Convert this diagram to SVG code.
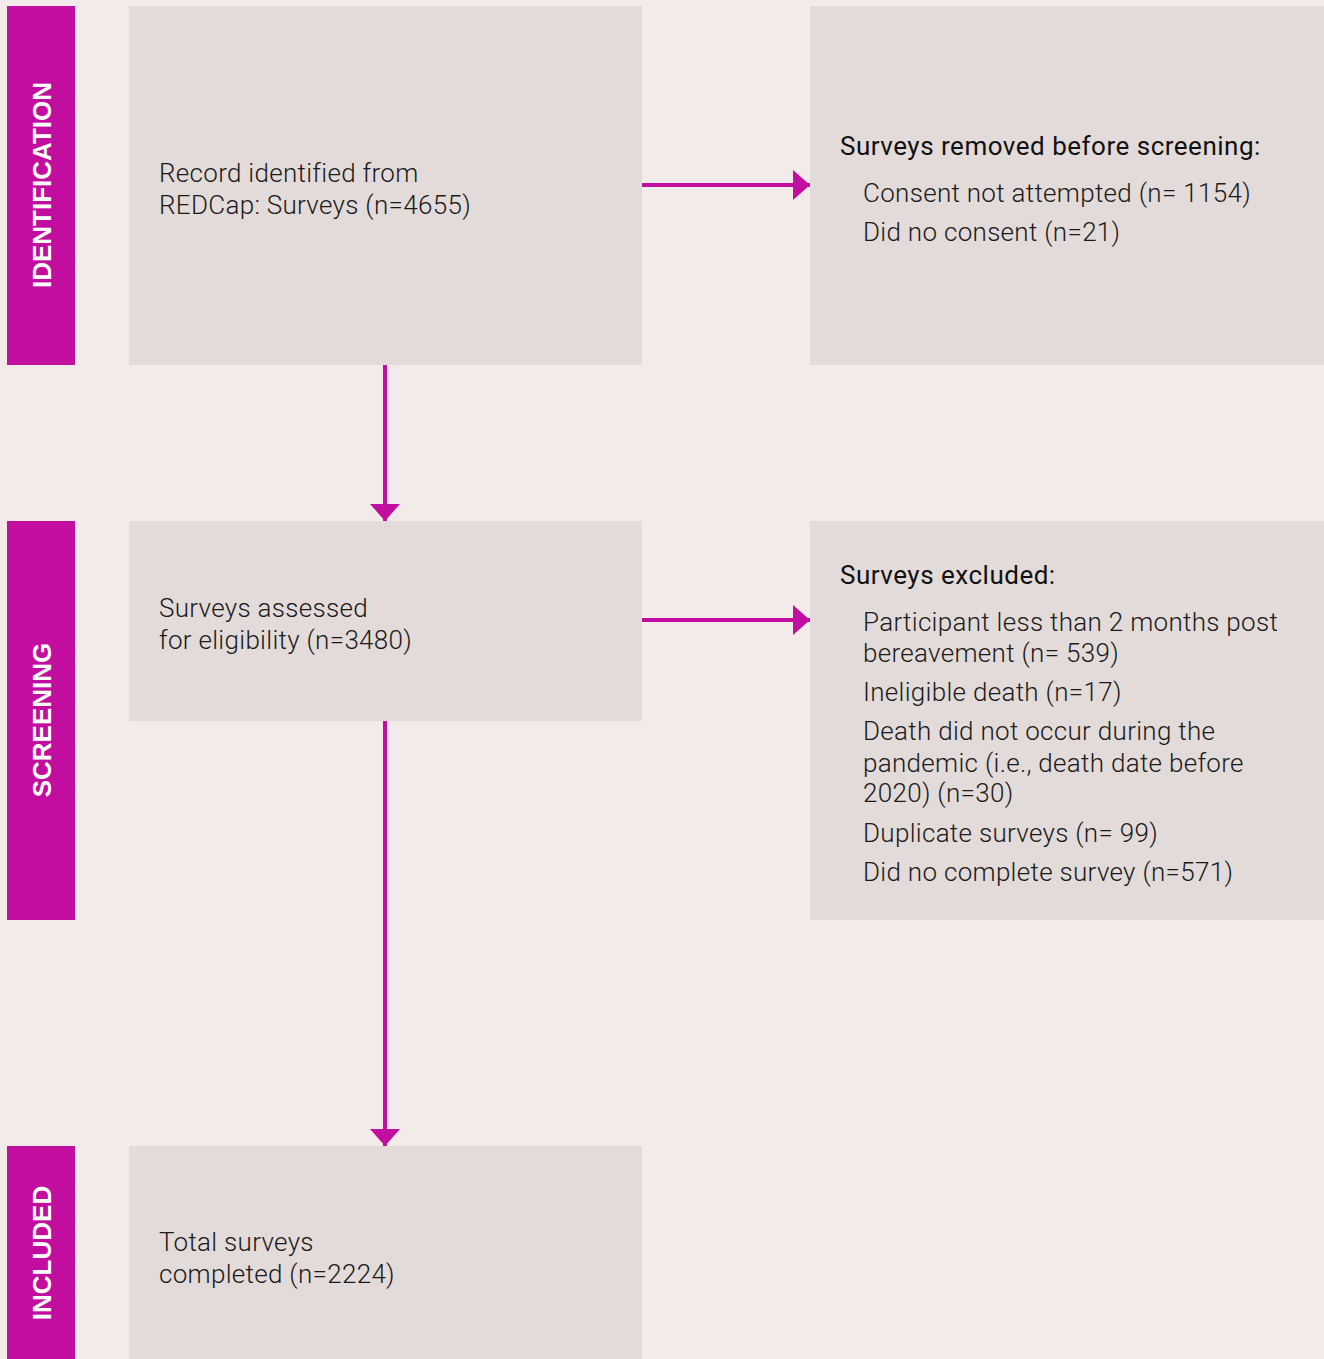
<svg xmlns="http://www.w3.org/2000/svg" width="1324" height="1359" viewBox="0 0 1324 1359">
<defs>
<style>
.bg{fill:#F3EAEA}
.bar{fill:#C20E9E}
.box{fill:#E3DBD9}
.lbl{font-family:"Liberation Sans",Arial,sans-serif;font-weight:bold;font-size:26px;fill:#FFFFFF;text-anchor:middle}
.t{font-family:Roboto,"Liberation Sans",sans-serif;font-weight:300;font-size:26px;letter-spacing:0.3px;fill:#1a1a1a}
.h{font-family:Roboto,"Liberation Sans",sans-serif;font-weight:400;font-size:26px;letter-spacing:0.5px;fill:#111111}
.con{stroke:#C20E9E;stroke-width:4;fill:none}
</style>
<marker id="ah" viewBox="0 0 17 30" refX="17" refY="15" markerWidth="17" markerHeight="30" markerUnits="userSpaceOnUse" orient="auto">
<path d="M0,0 L17,15 L0,30 Z" fill="#C20E9E"/>
</marker>
</defs>
<rect class="bg" x="0" y="0" width="1324" height="1359"/>
<g id="stage-identification">
<rect class="bar" x="7" y="6" width="68" height="359"/>
<text class="lbl" transform="translate(51,185) rotate(-90)">IDENTIFICATION</text>
</g>
<g id="stage-screening">
<rect class="bar" x="7" y="521" width="68" height="399"/>
<text class="lbl" transform="translate(51,720) rotate(-90)">SCREENING</text>
</g>
<g id="stage-included">
<rect class="bar" x="7" y="1146" width="68" height="213"/>
<text class="lbl" transform="translate(51,1253) rotate(-90)">INCLUDED</text>
</g>
<g id="node-identified">
<rect class="box" x="129" y="6" width="513" height="359"/>
<text class="t" x="159" y="182">Record identified from</text>
<text class="t" x="159" y="214">REDCap: Surveys (n=4655)</text>
</g>
<g id="node-removed">
<rect class="box" x="810" y="6" width="514" height="359"/>
<text class="h" x="840" y="155">Surveys removed before screening:</text>
<text class="t" x="863" y="202">Consent not attempted (n= 1154)</text>
<text class="t" x="863" y="241">Did no consent (n=21)</text>
</g>
<g id="node-assessed">
<rect class="box" x="129" y="521" width="513" height="200"/>
<text class="t" x="159" y="617">Surveys assessed</text>
<text class="t" x="159" y="649">for eligibility (n=3480)</text>
</g>
<g id="node-excluded">
<rect class="box" x="810" y="521" width="514" height="399"/>
<text class="h" x="840" y="584">Surveys excluded:</text>
<text class="t" x="863" y="631">Participant less than 2 months post</text>
<text class="t" x="863" y="662">bereavement (n= 539)</text>
<text class="t" x="863" y="701">Ineligible death (n=17)</text>
<text class="t" x="863" y="740">Death did not occur during the</text>
<text class="t" x="863" y="772">pandemic (i.e., death date before</text>
<text class="t" x="863" y="802">2020) (n=30)</text>
<text class="t" x="863" y="842">Duplicate surveys (n= 99)</text>
<text class="t" x="863" y="881">Did no complete survey (n=571)</text>
</g>
<g id="node-included">
<rect class="box" x="129" y="1146" width="513" height="213"/>
<text class="t" x="159" y="1251">Total surveys</text>
<text class="t" x="159" y="1283">completed (n=2224)</text>
</g>
<g id="connectors">
<line class="con" x1="642" y1="185" x2="810" y2="185" marker-end="url(#ah)"/>
<line class="con" x1="385" y1="365" x2="385" y2="521" marker-end="url(#ah)"/>
<line class="con" x1="642" y1="620" x2="810" y2="620" marker-end="url(#ah)"/>
<line class="con" x1="385" y1="721" x2="385" y2="1146" marker-end="url(#ah)"/>
</g>
</svg>
